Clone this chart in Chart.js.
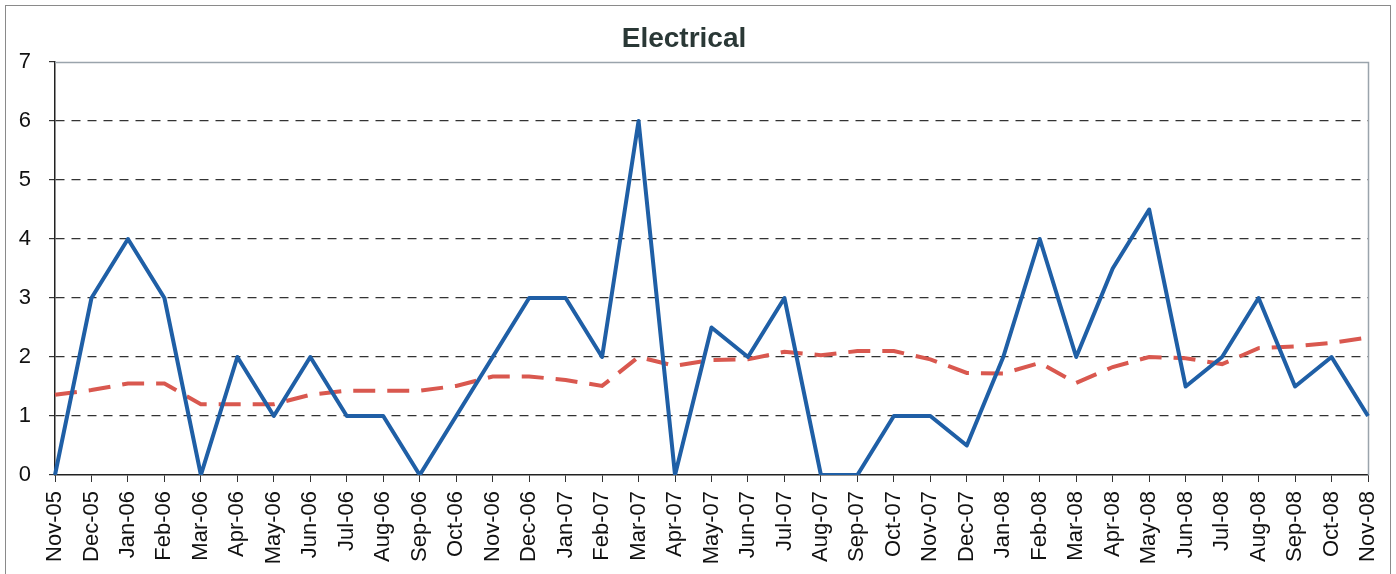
<!DOCTYPE html>
<html>
<head>
<meta charset="utf-8">
<script src="https://cdn.jsdelivr.net/npm/chart.js@4.4.1/dist/chart.umd.min.js"></script>
<style>
  html, body { margin: 0; padding: 0; background: #fff; }
  #wrap { width: 1396px; height: 574px; position: relative; }
</style>
</head>
<body>
<div id="wrap"><canvas id="c" width="1396" height="574"></canvas></div>
<script>
const categories = ["Nov-05","Dec-05","Jan-06","Feb-06","Mar-06","Apr-06","May-06","Jun-06","Jul-06","Aug-06","Sep-06","Oct-06","Nov-06","Dec-06","Jan-07","Feb-07","Mar-07","Apr-07","May-07","Jun-07","Jul-07","Aug-07","Sep-07","Oct-07","Nov-07","Dec-07","Jan-08","Feb-08","Mar-08","Apr-08","May-08","Jun-08","Jul-08","Aug-08","Sep-08","Oct-08","Nov-08"];
const monthlyValues = [0,3,4,3,0,2,1,2,1,1,0,1,2,3,3,2,6,0,2.5,2,3,0,0,1,1,0.5,2,4,2,3.5,4.5,1.5,2,3,1.5,2,1];
const averageValues = [1.36,1.44,1.55,1.55,1.2,1.2,1.2,1.36,1.43,1.43,1.43,1.51,1.67,1.67,1.61,1.51,2.0,1.85,1.95,1.96,2.09,2.03,2.1,2.1,1.96,1.73,1.72,1.9,1.56,1.83,2.0,1.98,1.88,2.15,2.18,2.24,2.33];
const yTicks = [0,1,2,3,4,5,6,7];
const titleText = "Electrical";

const frame = {
  id: 'frame',
  beforeDraw(chart) {
    const ctx = chart.ctx;
    ctx.save();
    ctx.fillStyle = '#fff';
    ctx.fillRect(0, 0, chart.width, chart.height);
    ctx.strokeStyle = '#8a8a8a';
    ctx.lineWidth = 1;
    ctx.strokeRect(5.5, 5.5, chart.width - 11, chart.height + 10);
    ctx.restore();
  },
  beforeDatasetsDraw(chart) {
    const a = chart.chartArea, ctx = chart.ctx;
    ctx.save();
    ctx.strokeStyle = '#9aa4ac';
    ctx.lineWidth = 1.5;
    ctx.beginPath();
    ctx.moveTo(a.left, a.top + 0.5);
    ctx.lineTo(a.right + 0.5, a.top + 0.5);
    ctx.lineTo(a.right + 0.5, a.bottom);
    ctx.stroke();
    ctx.restore();
  }
};

new Chart(document.getElementById('c'), {
  type: 'line',
  data: {
    labels: categories,
    datasets: [
      {
        label: 'Monthly',
        data: monthlyValues,
        borderColor: '#1f5fa6',
        borderWidth: 4,
        borderJoinStyle: 'round',
        pointRadius: 0,
        tension: 0,
        fill: false,
        order: 1
      },
      {
        label: 'Average',
        data: averageValues,
        borderColor: '#d9584f',
        borderWidth: 4,
        borderDash: [22, 12],
        pointRadius: 0,
        tension: 0,
        fill: false,
        order: 2
      }
    ]
  },
  options: {
    responsive: false,
    animation: false,
    layout: { padding: { left: 0, right: 28, top: 0, bottom: 0 } },
    plugins: {
      legend: { display: false },
      tooltip: { enabled: false },
      title: {
        display: true,
        text: titleText,
        color: '#2a3836',
        font: { family: 'Liberation Sans', size: 28, weight: 'bold', lineHeight: 1.2 },
        padding: { top: 22, bottom: 6.4 }
      }
    },
    scales: {
      x: {
        offset: false,
        afterFit(scale) { scale.height = 99; scale.paddingLeft = 0; scale.paddingRight = 0; },
        grid: {
          drawOnChartArea: false,
          drawTicks: true,
          tickLength: 7,
          tickColor: '#333',
          color: '#333'
        },
        border: { display: true, color: '#222', width: 1.5 },
        ticks: {
          minRotation: 90,
          maxRotation: 90,
          autoSkip: false,
          color: '#111',
          padding: 9,
          font: { family: 'Liberation Sans', size: 22 }
        }
      },
      y: {
        min: 0,
        max: 7,
        afterFit(scale) { scale.width = 55; scale.paddingTop = 0; scale.paddingBottom = 0; },
        afterBuildTicks(scale) { scale.ticks = yTicks.map(v => ({ value: v })); },
        grid: {
          drawTicks: true,
          tickLength: 6,
          tickColor: '#333',
          color: (c) => (c.tick && (c.tick.value === 0 || c.tick.value === 7)) ? 'rgba(0,0,0,0)' : '#333',
          lineWidth: 1.2
        },
        border: { display: true, color: '#222', width: 1.5, dash: [9, 7] },
        ticks: {
          color: '#111',
          padding: 18,
          font: { family: 'Liberation Sans', size: 22 }
        }
      }
    }
  },
  plugins: [frame]
});
</script>
</body>
</html>
